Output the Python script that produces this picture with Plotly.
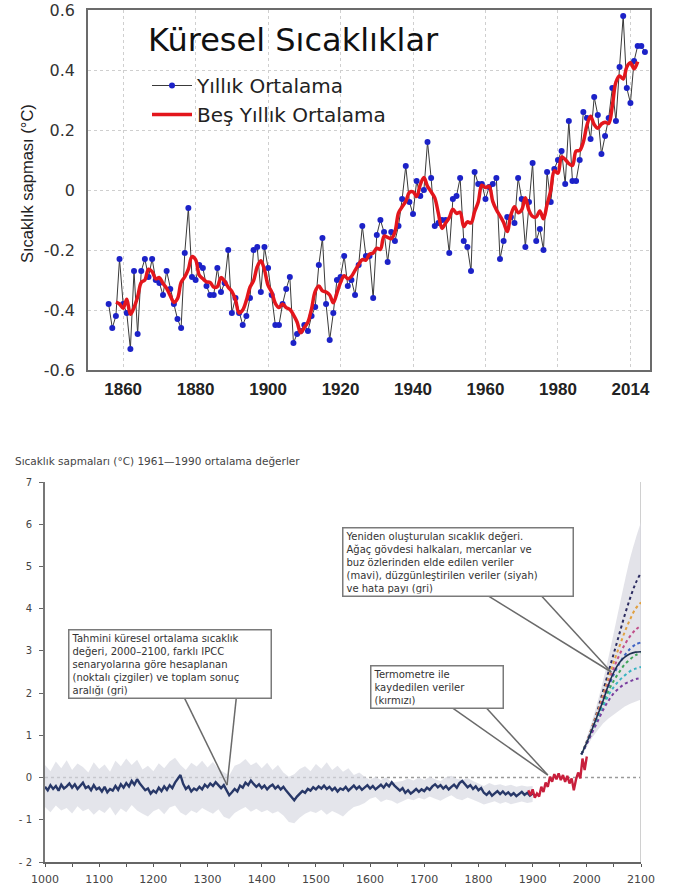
import plotly.graph_objects as go
import pandas as pd

W, H = 677, 888

# ---------------- Top chart: global annual temperature anomaly ----------------
years = list(range(1856, 2005))
annual = [
    -0.38, -0.46, -0.42, -0.23, -0.38, -0.41, -0.53, -0.27, -0.48, -0.27,
    -0.23, -0.29, -0.23, -0.30, -0.31, -0.35, -0.27, -0.33, -0.38, -0.43,
    -0.46, -0.21, -0.06, -0.29, -0.30, -0.25, -0.26, -0.32, -0.35, -0.35,
    -0.26, -0.34, -0.31, -0.20, -0.41, -0.36, -0.41, -0.45, -0.42, -0.36,
    -0.20, -0.19, -0.34, -0.19, -0.26, -0.35, -0.45, -0.45, -0.38, -0.33,
    -0.29, -0.51, -0.48, -0.47, -0.45, -0.47, -0.42, -0.39, -0.25, -0.16,
    -0.38, -0.50, -0.41, -0.30, -0.29, -0.22, -0.32, -0.30, -0.35, -0.25,
    -0.12, -0.22, -0.22, -0.36, -0.15, -0.10, -0.14, -0.24, -0.14, -0.17,
    -0.12, -0.03, 0.08, -0.04, -0.08, 0.03, -0.02, 0.00, 0.16, 0.04,
    -0.12, -0.11, -0.10, -0.10, -0.21, -0.03, -0.02, 0.04, -0.17, -0.19,
    -0.27, 0.06, 0.02, 0.02, -0.03, 0.01, 0.02, 0.04, -0.23, -0.17,
    -0.09, -0.09, -0.11, 0.04, -0.03, -0.19, -0.04, 0.09, -0.17, -0.13,
    -0.20, 0.06, -0.04, 0.07, 0.10, 0.13, 0.02, 0.23, 0.03, 0.03,
    0.10, 0.26, 0.24, 0.17, 0.31, 0.25, 0.12, 0.18, 0.24, 0.34,
    0.23, 0.41, 0.58, 0.34, 0.29, 0.43, 0.48, 0.48, 0.46,
]
five_year = pd.Series(annual, index=years).rolling(5, center=True).mean()

top_tick_years = [1860, 1880, 1900, 1920, 1940, 1960, 1980, 2000]
top_tick_text = ["1860", "1880", "1900", "1920", "1940", "1960", "1980", "2014"]
top_y_ticks = [-0.6, -0.4, -0.2, 0, 0.2, 0.4, 0.6]
top_y_text = ["-0.6", "-0.4", "-0.2", "0", "0.2", "0.4", "0.6"]

# ---------------- Bottom chart: reconstruction, record and projections ----------------
recon_years = list(range(1000, 1901, 5))
recon = [
    -0.22, -0.30, -0.18, -0.27, -0.20, -0.31, -0.17, -0.26, -0.21, -0.14,
    -0.24, -0.16, -0.27, -0.19, -0.12, -0.25, -0.21, -0.30, -0.18, -0.28,
    -0.24, -0.33, -0.22, -0.35, -0.27, -0.31, -0.20, -0.29, -0.16, -0.24,
    -0.13, -0.21, -0.08, -0.17, -0.04, -0.14, -0.22, -0.30, -0.26, -0.38,
    -0.31, -0.36, -0.24, -0.32, -0.21, -0.29, -0.18, -0.25, -0.12, -0.03,
    0.06, -0.15, -0.27, -0.21, -0.33, -0.26, -0.30, -0.22, -0.28, -0.17,
    -0.23, -0.14, -0.20, -0.11, -0.19, -0.25, -0.18, -0.32, -0.42, -0.35,
    -0.27, -0.33, -0.19, -0.24, -0.12, -0.18, -0.07, -0.15, -0.22, -0.16,
    -0.25, -0.19, -0.28, -0.21, -0.17, -0.26, -0.20, -0.28, -0.22, -0.31,
    -0.38, -0.47, -0.54, -0.45, -0.38, -0.32, -0.36, -0.27, -0.31, -0.23,
    -0.28, -0.21, -0.26, -0.19, -0.27, -0.22, -0.30, -0.24, -0.33, -0.26,
    -0.29, -0.22, -0.31, -0.25, -0.19, -0.27, -0.21, -0.29, -0.24, -0.18,
    -0.26, -0.20, -0.28, -0.22, -0.17, -0.24, -0.15, -0.21, -0.11, -0.19,
    -0.26, -0.31, -0.25, -0.36, -0.30, -0.38, -0.33, -0.27, -0.34, -0.28,
    -0.32, -0.24, -0.29, -0.21, -0.16, -0.23, -0.18, -0.26, -0.20, -0.28,
    -0.22, -0.17, -0.24, -0.13, -0.08, -0.16, -0.23, -0.18, -0.27, -0.21,
    -0.30, -0.25, -0.36, -0.41, -0.34, -0.43, -0.37, -0.32, -0.39, -0.33,
    -0.40, -0.35, -0.42, -0.37, -0.44, -0.38, -0.34, -0.41, -0.36, -0.43,
    -0.38,
]

band_years = list(range(1000, 1901, 10))
band_upper = [
    0.30, 0.15, 0.38, 0.22, 0.41, 0.18, 0.33, 0.25, 0.12, 0.36,
    0.20, 0.31, 0.14, 0.40, 0.27, 0.45, 0.30, 0.42, 0.19, 0.28,
    0.15, 0.34, 0.22, 0.38, 0.47, 0.30, 0.18, 0.35, 0.26, 0.40,
    0.24, 0.37, 0.20, 0.12, 0.05, 0.28, 0.33, 0.44, 0.29, 0.36,
    0.22, 0.35, 0.18, 0.30, 0.12, 0.02, 0.08, 0.20, 0.27, 0.15,
    0.32, 0.21, 0.36, 0.18, 0.28, 0.14, 0.22, 0.06, 0.12, 0.02,
    -0.05, 0.02, -0.06, 0.01, -0.12, -0.10, -0.08, -0.02, -0.07, 0.00,
    -0.06, 0.02, -0.04, -0.08, 0.01, 0.04, -0.03, -0.06, -0.01, -0.08,
    -0.14, -0.20, -0.13, -0.18, -0.16, -0.20, -0.17, -0.22, -0.19, -0.21,
    -0.20,
]
band_lower = [
    -0.70, -0.82, -0.66, -0.78, -0.72, -0.85, -0.68, -0.80, -0.74, -0.88,
    -0.76, -0.84, -0.70, -0.90, -0.73, -0.82, -0.65, -0.78, -0.86, -0.92,
    -0.80, -0.74, -0.87, -0.71, -0.66, -0.83, -0.90, -0.78, -0.84, -0.72,
    -0.79, -0.86, -0.75, -0.93, -0.98, -0.84, -0.76, -0.70, -0.81, -0.74,
    -0.82, -0.77, -0.85, -0.80, -0.90, -1.05, -1.08, -0.95, -0.86, -0.80,
    -0.84, -0.76, -0.88, -0.79, -0.85, -0.92, -0.80, -0.70, -0.66, -0.60,
    -0.50, -0.46, -0.58, -0.52, -0.55, -0.62, -0.56, -0.50, -0.54, -0.48,
    -0.52, -0.45, -0.50, -0.55, -0.48, -0.42, -0.50, -0.54, -0.47, -0.52,
    -0.58, -0.64, -0.60, -0.56, -0.62, -0.58, -0.63, -0.60, -0.57, -0.60,
    -0.58,
]

thermo_years = list(range(1892, 2001, 4))
thermo = [
    -0.30, -0.42, -0.28, -0.48, -0.38, -0.45, -0.22, -0.34, -0.12, -0.22,
    0.02, -0.10, 0.08, -0.04, 0.10, -0.06, 0.06, -0.10, 0.04, -0.14,
    -0.02, -0.30, -0.05, 0.12, -0.02, 0.45, 0.18, 0.50,
]

proj_years = list(range(1990, 2101, 10))
proj_upper = [0.60, 0.95, 1.35, 1.80, 2.30, 2.85, 3.45, 4.05, 4.65, 5.20, 5.65, 6.05]
proj_lower = [0.50, 0.72, 0.95, 1.12, 1.28, 1.40, 1.50, 1.60, 1.68, 1.75, 1.80, 1.85]
scenarios = {
    "A": [0.55, 0.85, 1.20, 1.60, 2.05, 2.50, 2.95, 3.40, 3.85, 4.25, 4.60, 4.85],
    "B": [0.55, 0.85, 1.20, 1.55, 1.95, 2.35, 2.75, 3.10, 3.45, 3.75, 4.00, 4.15],
    "C": [0.55, 0.84, 1.17, 1.50, 1.88, 2.25, 2.60, 2.90, 3.15, 3.35, 3.50, 3.60],
    "D": [0.55, 0.83, 1.15, 1.45, 1.80, 2.15, 2.45, 2.70, 2.90, 3.05, 3.15, 3.20],
    "E": [0.55, 0.82, 1.12, 1.42, 1.75, 2.05, 2.30, 2.50, 2.68, 2.80, 2.90, 2.95],
    "F": [0.55, 0.81, 1.10, 1.38, 1.68, 1.95, 2.15, 2.30, 2.42, 2.52, 2.58, 2.62],
    "G": [0.55, 0.80, 1.07, 1.33, 1.60, 1.82, 2.00, 2.12, 2.22, 2.28, 2.33, 2.35],
}
scenario_colors = {
    "A": "#2b2b60", "B": "#e0a040", "C": "#c0508a", "D": "#3f63c4",
    "E": "#3fa55a", "F": "#39b3c2", "G": "#7a3fa0",
}
proj_mean = [0.55, 0.83, 1.15, 1.48, 1.82, 2.20, 2.50, 2.72, 2.85, 2.93, 2.97, 2.98]

bottom_ticks = list(range(1000, 2101, 100))
bottom_y_ticks = list(range(-2, 8))
bottom_y_text = ["- 2", "- 1", "0", "1", "2", "3", "4", "5", "6", "7"]

fig = go.Figure()

# ---- top chart traces ----
fig.add_trace(go.Scatter(
    x=years, y=annual, mode="lines+markers", name="Yıllık Ortalama",
    line=dict(color="#3a3a3a", width=1),
    marker=dict(color="#1c22c8", size=6),
    xaxis="x", yaxis="y",
))
fig.add_trace(go.Scatter(
    x=five_year.index, y=five_year.values, mode="lines", name="Beş Yıllık Ortalama",
    line=dict(color="#e3161c", width=3.5, shape="spline", smoothing=1.0),
    xaxis="x", yaxis="y",
))

# ---- bottom chart traces ----
fig.add_trace(go.Scatter(x=band_years, y=band_lower, mode="lines", line=dict(width=0),
                         showlegend=False, hoverinfo="skip", xaxis="x2", yaxis="y2"))
fig.add_trace(go.Scatter(x=band_years, y=band_upper, mode="lines", line=dict(width=0),
                         fill="tonexty", fillcolor="rgba(216,218,226,0.7)",
                         showlegend=False, hoverinfo="skip", xaxis="x2", yaxis="y2"))
fig.add_trace(go.Scatter(x=proj_years, y=proj_lower, mode="lines", line=dict(width=0),
                         showlegend=False, hoverinfo="skip", xaxis="x2", yaxis="y2"))
fig.add_trace(go.Scatter(x=proj_years, y=proj_upper, mode="lines",
                         line=dict(width=0, shape="spline"),
                         fill="tonexty", fillcolor="rgba(218,218,226,0.75)",
                         showlegend=False, hoverinfo="skip", xaxis="x2", yaxis="y2"))
fig.add_trace(go.Scatter(x=recon_years, y=recon, mode="lines",
                         line=dict(color="#283868", width=2.4),
                         showlegend=False, xaxis="x2", yaxis="y2"))
fig.add_trace(go.Scatter(x=thermo_years, y=thermo, mode="lines",
                         line=dict(color="#c81f3c", width=2.4),
                         showlegend=False, xaxis="x2", yaxis="y2"))
for key, vals in scenarios.items():
    fig.add_trace(go.Scatter(x=proj_years, y=vals, mode="lines",
                             line=dict(color=scenario_colors[key], width=2, dash="dot",
                                       shape="spline"),
                             showlegend=False, xaxis="x2", yaxis="y2"))
fig.add_trace(go.Scatter(x=proj_years, y=proj_mean, mode="lines",
                         line=dict(color="#1f3050", width=1.6, shape="spline"),
                         showlegend=False, xaxis="x2", yaxis="y2"))

# ---- reference lines ----
shapes = [
    dict(type="line", xref="x2", yref="y2", x0=1000, x1=2100, y0=0, y1=0,
         line=dict(color="#9a9a9a", width=1.5, dash="dot"), layer="below"),
    dict(type="line", xref="x2", yref="y2", x0=2100, x1=2100, y0=-2, y1=7,
         line=dict(color="#d0d0d0", width=2), layer="below"),
]

# ---- callout boxes and pointer lines ----
callouts = [
    dict(text="Tahmini küresel ortalama sıcaklık<br>değeri, 2000–2100, farklı IPCC<br>"
              "senaryolarına göre hesaplanan<br>(noktalı çizgiler) ve toplam sonuç<br>aralığı (gri)",
         left=68, top=629, width=205,
         pointers=[((1253, 2.0), (1336, -0.18)), ((1354, 2.0), (1336, -0.18))]),
    dict(text="Yeniden oluşturulan sıcaklık değeri.<br>Ağaç gövdesi halkaları, mercanlar ve<br>"
              "buz özlerinden elde edilen veriler<br>(mavi), düzgünleştirilen veriler (siyah)<br>"
              "ve hata payı (gri)",
         left=342, top=527, width=233,
         pointers=[((1803, 4.42), (2045, 2.5)), ((1908, 4.42), (2045, 2.5))]),
    dict(text="Termometre ile<br>kaydedilen veriler<br>(kırmızı)",
         left=370, top=665, width=135,
         pointers=[((1742, 1.74), (1928, 0.06)), ((1808, 1.74), (1928, 0.06))]),
]

annotations = [
    dict(text="Küresel Sıcaklıklar", xref="paper", yref="paper",
         x=146 / W, y=1 - 40 / H, xanchor="left", yanchor="middle", showarrow=False,
         font=dict(family="DejaVu Sans", size=32, color="#111")),
    dict(text="Sıcaklık sapması (°C)", xref="paper", yref="paper",
         x=27 / W, y=1 - 184 / H, xanchor="center", yanchor="middle", showarrow=False,
         textangle=-90, font=dict(family="Liberation Sans, Arial", size=16.5, color="#222")),
    dict(text="Sıcaklık sapmaları (°C) 1961—1990 ortalama değerler", xref="paper", yref="paper",
         x=13 / W, y=1 - 461 / H, xanchor="left", yanchor="middle", showarrow=False,
         font=dict(family="DejaVu Sans", size=10.5, color="#444")),
]

for c in callouts:
    for (start, end) in c["pointers"]:
        shapes.append(dict(type="line", xref="x2", yref="y2",
                           x0=start[0], y0=start[1], x1=end[0], y1=end[1],
                           line=dict(color="#6a6a6a", width=1.5)))
    annotations.append(dict(
        text=c["text"], xref="paper", yref="paper",
        x=c["left"] / W, y=1 - c["top"] / H, xanchor="left", yanchor="top",
        showarrow=False, align="left", valign="top",
        width=c["width"] - 8,
        bgcolor="white", bordercolor="#7a7a7a", borderwidth=1.5, borderpad=2,
        font=dict(family="DejaVu Sans", size=10, color="#333"),
    ))

fig.update_layout(
    width=W, height=H, autosize=False,
    margin=dict(l=0, r=0, t=0, b=0, autoexpand=False),
    paper_bgcolor="white", plot_bgcolor="white",
    showlegend=True,
    legend=dict(x=147 / W, y=1 - 66 / H, xanchor="left", yanchor="top",
                traceorder="normal",
                font=dict(family="DejaVu Sans", size=20, color="#222"),
                bgcolor="rgba(0,0,0,0)", itemwidth=40, tracegroupgap=0),
    xaxis=dict(domain=[88 / W, 650 / W], range=[1850.3, 2005.4], anchor="y",
               automargin=False,
               tickvals=top_tick_years, ticktext=top_tick_text, ticks="",
               tickfont=dict(family="Liberation Sans, Arial", size=17, color="#222", weight="bold"),
               showgrid=True, gridcolor="#cfcfcf", griddash="dot", gridwidth=1,
               showline=True, linecolor="#6b6b6b", linewidth=1.5, mirror=True,
               zeroline=False, ticklabelstandoff=3),
    yaxis=dict(domain=[1 - 370 / H, 1 - 10 / H], range=[-0.6, 0.6], anchor="x",
               automargin=False,
               tickvals=top_y_ticks, ticktext=top_y_text, ticks="",
               tickfont=dict(family="DejaVu Sans", size=16, color="#333"),
               showgrid=True, gridcolor="#cfcfcf", griddash="dot", gridwidth=1,
               showline=True, linecolor="#6b6b6b", linewidth=1.5, mirror=True,
               zeroline=False, ticklabelstandoff=8),
    xaxis2=dict(domain=[45 / W, 641 / W], range=[1000, 2100], anchor="y2",
                automargin=False,
                tickvals=bottom_ticks, ticks="outside", ticklen=3, tickcolor="#555",
                minor=dict(dtick=50, tick0=1000, ticks="outside", ticklen=3, tickcolor="#555"),
                tickfont=dict(family="DejaVu Sans", size=11, color="#444"),
                showgrid=False, showline=True, linecolor="#666", linewidth=1.5,
                zeroline=False, ticklabelstandoff=3),
    yaxis2=dict(domain=[1 - 862 / H, 1 - 482 / H], range=[-2, 7], anchor="x2",
                automargin=False,
                tickvals=bottom_y_ticks, ticktext=bottom_y_text,
                ticks="outside", ticklen=4, tickcolor="#666",
                tickfont=dict(family="DejaVu Sans", size=10, color="#444"),
                showgrid=False, showline=True, linecolor="#777", linewidth=2,
                zeroline=False, ticklabelstandoff=5),
    shapes=shapes,
    annotations=annotations,
)

# Pin the graph to the top-left corner of the page.
page_setup = (
    "document.documentElement.style.margin='0';"
    "document.documentElement.style.overflow='hidden';"
    "document.body.style.margin='0';"
    "document.body.style.padding='0';"
    "document.body.style.overflow='hidden';"
    "var gd=document.getElementById('{plot_id}');"
    "gd.style.position='fixed';gd.style.left='0px';gd.style.top='0px';"
)

fig.write_html("out.html", config={"responsive": False}, post_script=page_setup)
